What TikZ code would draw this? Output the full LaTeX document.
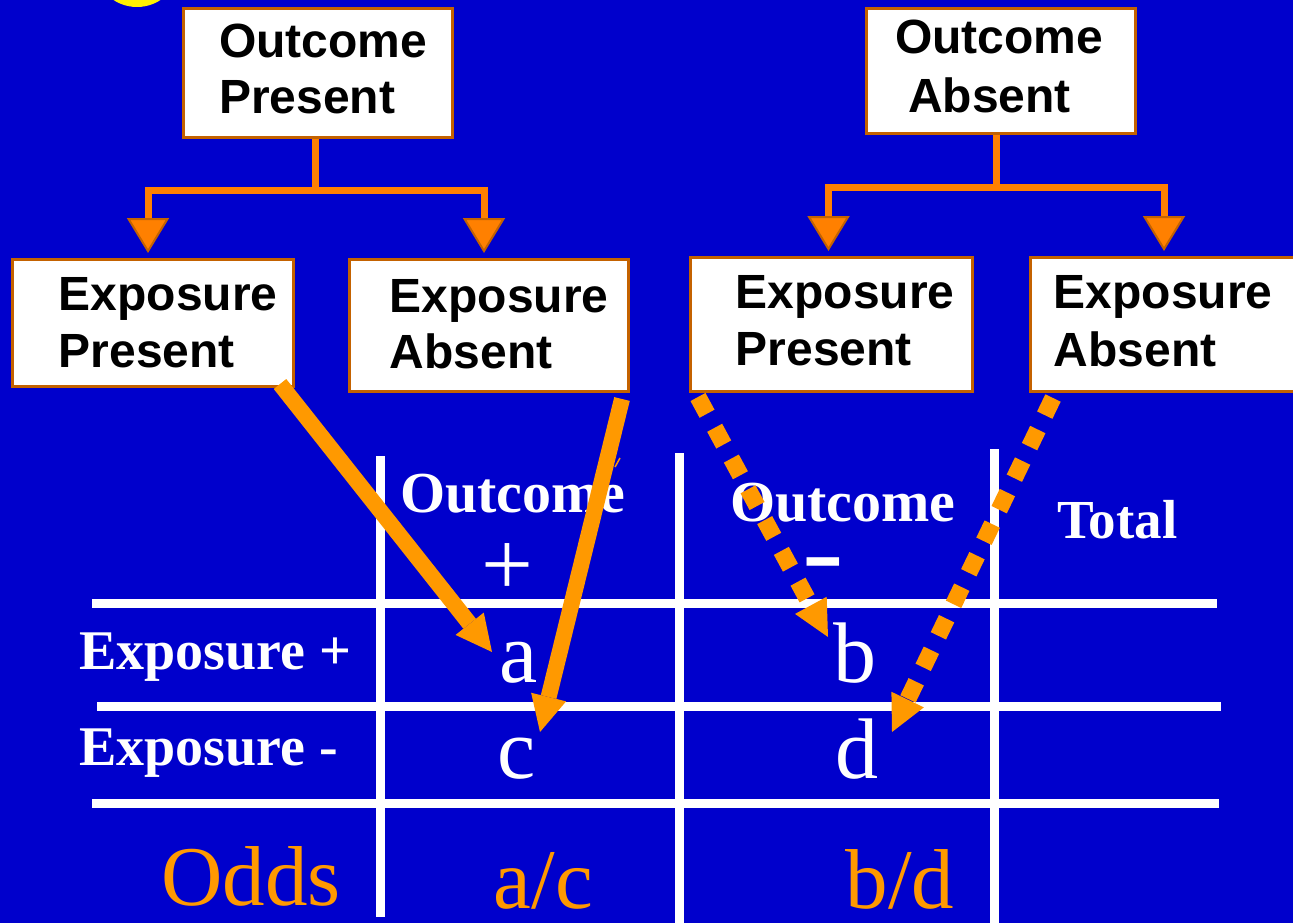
\documentclass[tikz,border=0pt]{standalone}
\usepackage{fontspec}
\setmainfont{Liberation Serif}
\setsansfont{Liberation Sans}
\usetikzlibrary{arrows.meta}
\definecolor{bg}{RGB}{0,0,204}
\definecolor{boxbd}{RGB}{196,98,0}
\definecolor{treeor}{RGB}{255,128,0}
\definecolor{tabor}{RGB}{255,153,0}
\tikzset{
  box/.style={draw=boxbd, line width=3pt, fill=white, inner sep=0pt, anchor=north west},
  boxtext/.style={font=\sffamily\bfseries\fontsize{48}{57}\selectfont, align=left, anchor=north west, inner sep=0pt, text=black},
  treeline/.style={draw=treeor, line width=7pt},
  treearrow/.style={treeline, -{Triangle[width=42pt,length=35pt,fill=treeor,color=boxbd,line width=2pt]}, shorten >=5pt},
  gridline/.style={draw=white, line width=9pt},
  headtext/.style={font=\bfseries\fontsize{58}{58}\selectfont, text=white, inner sep=0pt, anchor=base west},
  rowtext/.style={font=\bfseries\fontsize{56}{56}\selectfont, text=white, inner sep=0pt, anchor=base west},
  celltext/.style={font=\fontsize{86}{86}\selectfont, text=white, inner sep=0pt, anchor=base},
  oddstext/.style={font=\fontsize{85}{85}\selectfont, text=tabor, inner sep=0pt},
  solidarrow/.style={draw=tabor, line width=16pt, -{Triangle[width=36pt,length=36pt,line width=0pt]}},
  dotarrow/.style={draw=tabor, line width=17pt, line cap=butt, dash pattern=on 19pt off 16pt, -{Triangle[width=36pt,length=36pt,line width=0pt]}}
}
\begin{document}
\begin{tikzpicture}[x=1pt,y=-1pt]
\fill[bg] (0,0) rectangle (1293,923);
\useasboundingbox (0,0) rectangle (1293,923);
\fill[yellow] (137,-36) circle (43);

% boxes
\node[box, minimum width=269pt, minimum height=129pt] (op) at (182,7) {};
\node[box, minimum width=269pt, minimum height=125pt] (oa) at (865,7) {};
\node[box, minimum width=281pt, minimum height=127pt] (ep1) at (11,258) {};
\node[box, minimum width=279pt, minimum height=132pt] (ep2) at (348,258) {};
\node[box, minimum width=282pt, minimum height=134pt] (ep3) at (689,256) {};
\node[box, minimum width=285pt, minimum height=134pt] (ep4) at (1029,256) {};

\node[boxtext, font=\sffamily\bfseries\fontsize{48}{56}\selectfont] (opt) at (219,17) {\rule{0pt}{40pt}Outcome\\Present};
\node[boxtext, font=\sffamily\bfseries\fontsize{48}{59}\selectfont] (oat) at (895,13) {\rule{0pt}{40pt}Outcome\\\hspace*{13pt}Absent};
\node[boxtext] (ep1t) at (58.5,270) {\rule{0pt}{40pt}Exposure\\Present};
\node[boxtext, font=\sffamily\bfseries\fontsize{48}{56}\selectfont] (ep2t) at (389.5,272) {\rule{0pt}{40pt}Exposure\\Absent};
\node[boxtext] (ep3t) at (735.5,268) {\rule{0pt}{40pt}Exposure\\Present};
\node[boxtext, font=\sffamily\bfseries\fontsize{48}{58.5}\selectfont] (ep4t) at (1053.5,268) {\rule{0pt}{40pt}Exposure\\Absent};

% tree connectors
\draw[treeline] ([xshift=-2.5pt]op.south) -- ++(0,51) coordinate (j1);
\draw[treearrow] ([xshift=1pt]j1) -| ([xshift=-5pt]ep1.north);
\draw[treearrow] ([xshift=-1pt]j1) -| ([xshift=-5pt]ep2.north);
\draw[treeline] ([xshift=-4.5pt]oa.south) -- ++(0,52) coordinate (j2);
\draw[treearrow] ([xshift=1pt]j2) -| ([xshift=-3pt]ep3.north);
\draw[treearrow] ([xshift=-1pt]j2) -| ([xshift=-9pt]ep4.north);

% table grid
\coordinate (h1l) at (92,603); \coordinate (h1r) at (1217,603);
\coordinate (h2l) at (97,706); \coordinate (h2r) at (1221,706);
\coordinate (h3l) at (92,803); \coordinate (h3r) at (1219,803);
\coordinate (v1t) at (380,456); \coordinate (v1b) at (380,917);
\coordinate (v2t) at (679,453); \coordinate (v2b) at (679,923);
\coordinate (v3t) at (994,449); \coordinate (v3b) at (994,923);
\draw[gridline] (h1l) -- (h1r);
\draw[gridline] (h2l) -- (h2r);
\draw[gridline] (h3l) -- (h3r);
\draw[gridline] (v1t) -- (v1b);
\draw[gridline] (v2t) -- (v2b);
\draw[gridline] (v3t) -- (v3b);

% table text
\node[headtext] (hd1) at (400,512) {Outcome};
\node[headtext] (hd2) at (730,521) {Outcome};
\node[headtext, font=\bfseries\fontsize{55}{55}\selectfont] (tot) at (1057,538) {Total};
\node[font=\fontsize{92}{92}\selectfont, text=white, inner sep=0pt, anchor=base] (plus) at (507.5,595) {+};
\node[font=\bfseries\fontsize{100}{100}\selectfont, text=white, inner sep=0pt, anchor=base] (minus) at (823.5,585) {\scalebox{1.25}[1]{-}};
\draw[tabor, line width=1.5pt] (615,467) -- (620,458);
\node[rowtext] (rp) at (79,669) {Exposure +};
\node[rowtext] (rm) at (79,765) {Exposure -};
\node[celltext] (a) at (518.5,682) {a};
\node[celltext] (b) at (855,682) {b};
\node[celltext] (c) at (517,778) {c};
\node[celltext] (d) at (857,778) {d};
\node[oddstext, anchor=base west] (odds) at (161,905) {Odds};
\node[oddstext, anchor=base] (ac) at (543.5,908) {a/c};
\node[oddstext, anchor=base] (bd) at (900,908) {b/d};

% arrows into the table
\coordinate (s1) at ([shift={(-15,-4)}]ep1.south east);
\coordinate (s2) at ([shift={(-8,6)}]ep2.south east);
\coordinate (s3) at ([shift={(9,4)}]ep3.south west);
\coordinate (s4) at ([shift={(24,5)}]ep4.south west);
\coordinate (ta) at (492,652);
\coordinate (tc) at (540,732);
\coordinate (tb) at (828,637);
\coordinate (td) at (892,732);
\draw[solidarrow] (s1) -- (ta);
\draw[solidarrow] (s2) -- (tc);
\draw[dotarrow] (s3) -- (tb);
\draw[dotarrow] (s4) -- (td);
\end{tikzpicture}
\end{document}
